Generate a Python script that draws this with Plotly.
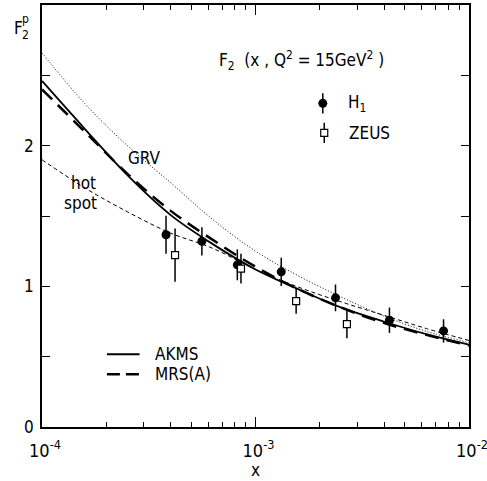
import plotly.graph_objects as go

# ---------------- data ----------------
curve_x = [1e-4, 1.585e-4, 2.512e-4, 3.981e-4, 6.31e-4, 1e-3,
           1.585e-3, 2.512e-3, 3.981e-3, 6.31e-3, 1e-2]
akms = [2.46, 2.12, 1.79, 1.51, 1.30, 1.12, 0.98, 0.85, 0.75, 0.66, 0.585]
mrsa = [2.40, 2.10, 1.80, 1.54, 1.33, 1.14, 0.98, 0.85, 0.74, 0.655, 0.58]
grv = [2.66, 2.30, 2.00, 1.74, 1.475, 1.25, 1.075, 0.925, 0.79, 0.68, 0.60]
hotspot = [1.90, 1.70, 1.53, 1.38, 1.27, 1.12, 0.995, 0.89, 0.795, 0.70, 0.615]

h1_x = [3.81e-4, 5.61e-4, 8.22e-4, 1.32e-3, 2.37e-3, 4.24e-3, 7.6e-3]
h1_y = [1.367, 1.32, 1.153, 1.103, 0.918, 0.759, 0.683]
h1_err = [0.135, 0.10, 0.11, 0.10, 0.095, 0.09, 0.083]

zeus_x = [4.2e-4, 8.55e-4, 1.55e-3, 2.68e-3]
zeus_y = [1.222, 1.126, 0.895, 0.731]
zeus_err = [0.19, 0.105, 0.09, 0.10]

x_tickvals = [1e-4, 1e-3, 1e-2]
x_ticktext = ["10<sup>-4</sup>", "10<sup>-3</sup>", "10<sup>-2</sup>"]
x_minor = [k * 1e-4 for k in range(2, 10)] + [k * 1e-3 for k in range(2, 10)]
y_tickvals = [0, 1, 2]
y_ticktext = ["0", "1", "2"]
y_minor = [0.5, 1.5, 2.5]

FONT = "DejaVu Sans Condensed, Liberation Sans Narrow, DejaVu Sans, sans-serif"

fig = go.Figure()

fig.add_trace(go.Scatter(x=curve_x, y=grv, mode="lines", line_shape="spline",
                         line=dict(color="black", width=1, dash="1px,2px"),
                         showlegend=False))
fig.add_trace(go.Scatter(x=curve_x, y=hotspot, mode="lines", line_shape="spline",
                         line=dict(color="black", width=1, dash="4px,3px"),
                         showlegend=False))
fig.add_trace(go.Scatter(x=curve_x, y=mrsa, mode="lines", line_shape="spline",
                         line=dict(color="black", width=2.5, dash="14px,8px"),
                         showlegend=False))
fig.add_trace(go.Scatter(x=curve_x, y=akms, mode="lines", line_shape="spline",
                         line=dict(color="black", width=1.8),
                         showlegend=False))

fig.add_trace(go.Scatter(x=h1_x, y=h1_y, mode="markers",
                         marker=dict(symbol="circle", size=9, color="black"),
                         error_y=dict(type="data", array=h1_err, width=0,
                                      thickness=1.5, color="black"),
                         showlegend=False))
fig.add_trace(go.Scatter(x=zeus_x, y=zeus_y, mode="markers",
                         marker=dict(symbol="square", size=7, color="white",
                                     line=dict(color="black", width=1.2)),
                         error_y=dict(type="data", array=zeus_err, width=0,
                                      thickness=1.5, color="black"),
                         showlegend=False))

# legend samples on an overlay 0..1 axis pair
fig.add_trace(go.Scatter(x=[0.6576], y=[0.767], mode="markers", xaxis="x2", yaxis="y2",
                         marker=dict(symbol="circle", size=9, color="black"),
                         error_y=dict(type="constant", value=0.024, width=0,
                                      thickness=1.5, color="black"),
                         showlegend=False, hoverinfo="skip"))
fig.add_trace(go.Scatter(x=[0.661], y=[0.697], mode="markers", xaxis="x2", yaxis="y2",
                         marker=dict(symbol="square", size=7, color="white",
                                     line=dict(color="black", width=1.2)),
                         error_y=dict(type="constant", value=0.024, width=0,
                                      thickness=1.5, color="black"),
                         showlegend=False, hoverinfo="skip"))

shapes = [
    dict(type="line", xref="paper", yref="paper", x0=0.152, x1=0.2285, y0=0.1724, y1=0.1724,
         line=dict(color="black", width=2)),
    dict(type="line", xref="paper", yref="paper", x0=0.152, x1=0.2285, y0=0.125, y1=0.125,
         line=dict(color="black", width=2.5, dash="13px,6px")),
]

ann_font = dict(family=FONT, size=17, color="black")
annotations = [
    dict(text="F<sub>2</sub>  (x , Q<sup>2</sup> = 15GeV<sup>2</sup> )", x=0.411, y=0.869,
         xref="paper", yref="paper", xanchor="left", yanchor="middle", showarrow=False,
         font=dict(family=FONT, size=17, color="black")),
    dict(text="H<sub>1</sub>", x=0.7126, y=0.767, xref="paper", yref="paper",
         xanchor="left", yanchor="middle", showarrow=False, font=ann_font),
    dict(text="ZEUS", x=0.7145, y=0.697, xref="paper", yref="paper",
         xanchor="left", yanchor="middle", showarrow=False, font=ann_font),
    dict(text="AKMS", x=0.2605, y=0.1724, xref="paper", yref="paper",
         xanchor="left", yanchor="middle", showarrow=False, font=ann_font),
    dict(text="MRS(A)", x=0.2605, y=0.125, xref="paper", yref="paper",
         xanchor="left", yanchor="middle", showarrow=False, font=ann_font),
    dict(text="GRV", x=(144 - 41.7) / 427.3, y=(426.7 - 158) / 421.7, xref="paper", yref="paper",
         xanchor="center", yanchor="middle", showarrow=False, font=ann_font),
    dict(text="hot", x=(83 - 41.7) / 427.3, y=(426.7 - 183) / 421.7, xref="paper", yref="paper",
         xanchor="center", yanchor="middle", showarrow=False, font=ann_font),
    dict(text="spot", x=(80 - 41.7) / 427.3, y=(426.7 - 203) / 421.7, xref="paper", yref="paper",
         xanchor="center", yanchor="middle", showarrow=False, font=ann_font),
    dict(text="F", x=(18 - 41.7) / 427.3, y=(426.7 - 28) / 421.7, xref="paper", yref="paper",
         xanchor="center", yanchor="middle", showarrow=False,
         font=dict(family=FONT, size=17, color="black")),
    dict(text="2", x=(25.5 - 41.7) / 427.3, y=(426.7 - 35) / 421.7, xref="paper", yref="paper",
         xanchor="center", yanchor="middle", showarrow=False,
         font=dict(family=FONT, size=12, color="black")),
    dict(text="p", x=(25.5 - 41.7) / 427.3, y=(426.7 - 19) / 421.7, xref="paper", yref="paper",
         xanchor="center", yanchor="middle", showarrow=False,
         font=dict(family=FONT, size=12, color="black")),
]

fig.update_layout(
    width=487, height=481,
    margin=dict(l=42, r=18, t=5, b=54, autoexpand=False),
    paper_bgcolor="white", plot_bgcolor="white",
    font=dict(family=FONT, size=17, color="black"),
    showlegend=False,
    xaxis=dict(type="log", range=[-4, -2], tickmode="array", tickvals=x_tickvals,
               ticktext=x_ticktext, ticks="inside", ticklen=10, tickwidth=1.3,
               tickcolor="black", showline=True, linecolor="black", linewidth=1.8,
               mirror="allticks", showgrid=False, zeroline=False, automargin=False,
               ticklabelstandoff=6, ticklabelshift=3, ticklabeloverflow="allow",
               minor=dict(tickmode="array", tickvals=x_minor, ticks="inside", ticklen=5,
                          tickwidth=1.2, tickcolor="black", showgrid=False),
               title=dict(text="x", standoff=2, font=dict(family=FONT, size=17)),
               tickfont=dict(family=FONT, size=18)),
    yaxis=dict(range=[0, 3.0], tickmode="array", tickvals=y_tickvals, ticktext=y_ticktext,
               ticks="inside", ticklen=8, tickwidth=1.3, tickcolor="black",
               showline=True, linecolor="black", linewidth=1.8, mirror="allticks",
               showgrid=False, zeroline=False, ticklabelstandoff=3, automargin=False,
               minor=dict(tickmode="array", tickvals=y_minor, ticks="inside", ticklen=8,
                          tickwidth=1.2, tickcolor="black", showgrid=False),
               tickfont=dict(family=FONT, size=17)),
    xaxis2=dict(range=[0, 1], overlaying="x", visible=False, domain=[0, 1]),
    yaxis2=dict(range=[0, 1], overlaying="y", visible=False, domain=[0, 1]),
    shapes=shapes,
    annotations=annotations,
)

fig.write_html("out.html", config={"displayModeBar": False},
               post_script="document.body.style.margin='0';document.body.style.overflow='hidden';")
